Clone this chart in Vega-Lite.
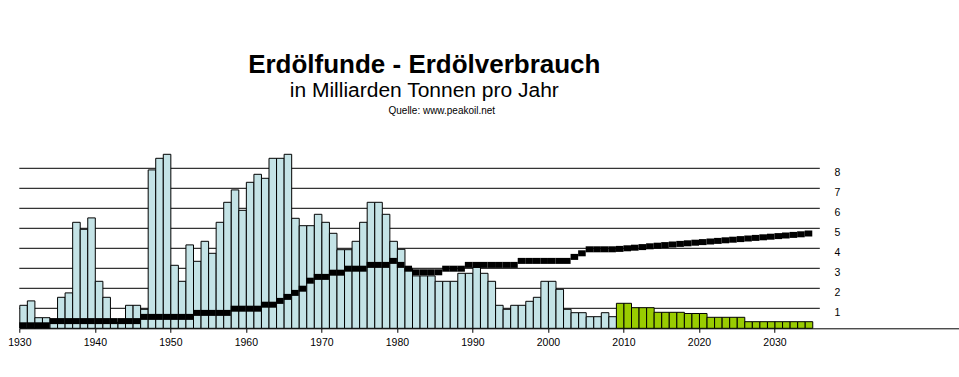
{
  "$schema": "https://vega.github.io/schema/vega-lite/v6.json",
  "width": 944,
  "height": 180,
  "autosize": {"type": "none"},
  "padding": {"left": 19.3, "top": 148.3, "right": 0, "bottom": 49},
  "background": "white",
  "title": {
    "text": "Erdölfunde - Erdölverbrauch",
    "subtitle": "in Milliarden Tonnen pro Jahr",
    "anchor": "middle",
    "frame": "group",
    "dx": -67,
    "font": "Liberation Sans",
    "fontSize": 26,
    "fontWeight": "bold",
    "color": "black",
    "subtitleFont": "Liberation Sans",
    "subtitleFontSize": 21,
    "subtitleColor": "black",
    "subtitlePadding": 2,
    "offset": 4
  },
  "datasets": {
    "funde": [
      {"jahr": "1930", "wert": 1.15, "art": "Funde"},
      {"jahr": "1931", "wert": 1.37, "art": "Funde"},
      {"jahr": "1932", "wert": 0.53, "art": "Funde"},
      {"jahr": "1933", "wert": 0.53, "art": "Funde"},
      {"jahr": "1934", "wert": 0.3, "art": "Funde"},
      {"jahr": "1935", "wert": 1.55, "art": "Funde"},
      {"jahr": "1936", "wert": 1.77, "art": "Funde"},
      {"jahr": "1937", "wert": 5.3, "art": "Funde"},
      {"jahr": "1938", "wert": 4.95, "art": "Funde"},
      {"jahr": "1939", "wert": 5.52, "art": "Funde"},
      {"jahr": "1940", "wert": 2.35, "art": "Funde"},
      {"jahr": "1941", "wert": 1.55, "art": "Funde"},
      {"jahr": "1942", "wert": 0.3, "art": "Funde"},
      {"jahr": "1943", "wert": 0.3, "art": "Funde"},
      {"jahr": "1944", "wert": 1.15, "art": "Funde"},
      {"jahr": "1945", "wert": 1.15, "art": "Funde"},
      {"jahr": "1946", "wert": 0.95, "art": "Funde"},
      {"jahr": "1947", "wert": 7.92, "art": "Funde"},
      {"jahr": "1948", "wert": 8.5, "art": "Funde"},
      {"jahr": "1949", "wert": 8.7, "art": "Funde"},
      {"jahr": "1950", "wert": 3.15, "art": "Funde"},
      {"jahr": "1951", "wert": 2.35, "art": "Funde"},
      {"jahr": "1952", "wert": 4.17, "art": "Funde"},
      {"jahr": "1953", "wert": 3.35, "art": "Funde"},
      {"jahr": "1954", "wert": 4.35, "art": "Funde"},
      {"jahr": "1955", "wert": 3.75, "art": "Funde"},
      {"jahr": "1956", "wert": 5.3, "art": "Funde"},
      {"jahr": "1957", "wert": 6.3, "art": "Funde"},
      {"jahr": "1958", "wert": 6.92, "art": "Funde"},
      {"jahr": "1959", "wert": 5.9, "art": "Funde"},
      {"jahr": "1960", "wert": 7.3, "art": "Funde"},
      {"jahr": "1961", "wert": 7.7, "art": "Funde"},
      {"jahr": "1962", "wert": 7.5, "art": "Funde"},
      {"jahr": "1963", "wert": 8.5, "art": "Funde"},
      {"jahr": "1964", "wert": 8.5, "art": "Funde"},
      {"jahr": "1965", "wert": 8.7, "art": "Funde"},
      {"jahr": "1966", "wert": 5.5, "art": "Funde"},
      {"jahr": "1967", "wert": 5.13, "art": "Funde"},
      {"jahr": "1968", "wert": 5.13, "art": "Funde"},
      {"jahr": "1969", "wert": 5.7, "art": "Funde"},
      {"jahr": "1970", "wert": 5.3, "art": "Funde"},
      {"jahr": "1971", "wert": 4.75, "art": "Funde"},
      {"jahr": "1972", "wert": 3.93, "art": "Funde"},
      {"jahr": "1973", "wert": 3.93, "art": "Funde"},
      {"jahr": "1974", "wert": 4.35, "art": "Funde"},
      {"jahr": "1975", "wert": 5.3, "art": "Funde"},
      {"jahr": "1976", "wert": 6.3, "art": "Funde"},
      {"jahr": "1977", "wert": 6.3, "art": "Funde"},
      {"jahr": "1978", "wert": 5.7, "art": "Funde"},
      {"jahr": "1979", "wert": 4.35, "art": "Funde"},
      {"jahr": "1980", "wert": 3.95, "art": "Funde"},
      {"jahr": "1981", "wert": 3.0, "art": "Funde"},
      {"jahr": "1982", "wert": 2.62, "art": "Funde"},
      {"jahr": "1983", "wert": 2.62, "art": "Funde"},
      {"jahr": "1984", "wert": 2.62, "art": "Funde"},
      {"jahr": "1985", "wert": 2.35, "art": "Funde"},
      {"jahr": "1986", "wert": 2.35, "art": "Funde"},
      {"jahr": "1987", "wert": 2.35, "art": "Funde"},
      {"jahr": "1988", "wert": 2.75, "art": "Funde"},
      {"jahr": "1989", "wert": 2.75, "art": "Funde"},
      {"jahr": "1990", "wert": 3.05, "art": "Funde"},
      {"jahr": "1991", "wert": 2.75, "art": "Funde"},
      {"jahr": "1992", "wert": 2.35, "art": "Funde"},
      {"jahr": "1993", "wert": 1.15, "art": "Funde"},
      {"jahr": "1994", "wert": 0.95, "art": "Funde"},
      {"jahr": "1995", "wert": 1.15, "art": "Funde"},
      {"jahr": "1996", "wert": 1.15, "art": "Funde"},
      {"jahr": "1997", "wert": 1.35, "art": "Funde"},
      {"jahr": "1998", "wert": 1.55, "art": "Funde"},
      {"jahr": "1999", "wert": 2.35, "art": "Funde"},
      {"jahr": "2000", "wert": 2.35, "art": "Funde"},
      {"jahr": "2001", "wert": 1.95, "art": "Funde"},
      {"jahr": "2002", "wert": 0.95, "art": "Funde"},
      {"jahr": "2003", "wert": 0.78, "art": "Funde"},
      {"jahr": "2004", "wert": 0.78, "art": "Funde"},
      {"jahr": "2005", "wert": 0.58, "art": "Funde"},
      {"jahr": "2006", "wert": 0.58, "art": "Funde"},
      {"jahr": "2007", "wert": 0.78, "art": "Funde"},
      {"jahr": "2008", "wert": 0.58, "art": "Funde"},
      {"jahr": "2009", "wert": 1.25, "art": "Prognose"},
      {"jahr": "2010", "wert": 1.25, "art": "Prognose"},
      {"jahr": "2011", "wert": 1.03, "art": "Prognose"},
      {"jahr": "2012", "wert": 1.03, "art": "Prognose"},
      {"jahr": "2013", "wert": 1.03, "art": "Prognose"},
      {"jahr": "2014", "wert": 0.8, "art": "Prognose"},
      {"jahr": "2015", "wert": 0.8, "art": "Prognose"},
      {"jahr": "2016", "wert": 0.8, "art": "Prognose"},
      {"jahr": "2017", "wert": 0.8, "art": "Prognose"},
      {"jahr": "2018", "wert": 0.74, "art": "Prognose"},
      {"jahr": "2019", "wert": 0.74, "art": "Prognose"},
      {"jahr": "2020", "wert": 0.74, "art": "Prognose"},
      {"jahr": "2021", "wert": 0.55, "art": "Prognose"},
      {"jahr": "2022", "wert": 0.55, "art": "Prognose"},
      {"jahr": "2023", "wert": 0.55, "art": "Prognose"},
      {"jahr": "2024", "wert": 0.55, "art": "Prognose"},
      {"jahr": "2025", "wert": 0.55, "art": "Prognose"},
      {"jahr": "2026", "wert": 0.33, "art": "Prognose"},
      {"jahr": "2027", "wert": 0.33, "art": "Prognose"},
      {"jahr": "2028", "wert": 0.33, "art": "Prognose"},
      {"jahr": "2029", "wert": 0.33, "art": "Prognose"},
      {"jahr": "2030", "wert": 0.33, "art": "Prognose"},
      {"jahr": "2031", "wert": 0.33, "art": "Prognose"},
      {"jahr": "2032", "wert": 0.33, "art": "Prognose"},
      {"jahr": "2033", "wert": 0.33, "art": "Prognose"},
      {"jahr": "2034", "wert": 0.33, "art": "Prognose"}
    ],
    "verbrauch": [
      {"jahr": "1930", "wert": 0.15}, {"jahr": "1931", "wert": 0.15}, {"jahr": "1932", "wert": 0.15}, {"jahr": "1933", "wert": 0.15},
      {"jahr": "1934", "wert": 0.36}, {"jahr": "1935", "wert": 0.36}, {"jahr": "1936", "wert": 0.36}, {"jahr": "1937", "wert": 0.36},
      {"jahr": "1938", "wert": 0.36}, {"jahr": "1939", "wert": 0.36}, {"jahr": "1940", "wert": 0.36}, {"jahr": "1941", "wert": 0.36},
      {"jahr": "1942", "wert": 0.36}, {"jahr": "1943", "wert": 0.36}, {"jahr": "1944", "wert": 0.36}, {"jahr": "1945", "wert": 0.36},
      {"jahr": "1946", "wert": 0.57}, {"jahr": "1947", "wert": 0.57}, {"jahr": "1948", "wert": 0.57}, {"jahr": "1949", "wert": 0.57},
      {"jahr": "1950", "wert": 0.57}, {"jahr": "1951", "wert": 0.57}, {"jahr": "1952", "wert": 0.57},
      {"jahr": "1953", "wert": 0.77}, {"jahr": "1954", "wert": 0.77}, {"jahr": "1955", "wert": 0.77}, {"jahr": "1956", "wert": 0.77}, {"jahr": "1957", "wert": 0.77},
      {"jahr": "1958", "wert": 0.98}, {"jahr": "1959", "wert": 0.98}, {"jahr": "1960", "wert": 0.98}, {"jahr": "1961", "wert": 0.98},
      {"jahr": "1962", "wert": 1.18}, {"jahr": "1963", "wert": 1.18}, {"jahr": "1964", "wert": 1.37}, {"jahr": "1965", "wert": 1.57},
      {"jahr": "1966", "wert": 1.77}, {"jahr": "1967", "wert": 1.98}, {"jahr": "1968", "wert": 2.38}, {"jahr": "1969", "wert": 2.57},
      {"jahr": "1970", "wert": 2.57}, {"jahr": "1971", "wert": 2.78}, {"jahr": "1972", "wert": 2.78}, {"jahr": "1973", "wert": 2.98},
      {"jahr": "1974", "wert": 2.98}, {"jahr": "1975", "wert": 2.98}, {"jahr": "1976", "wert": 3.17}, {"jahr": "1977", "wert": 3.17},
      {"jahr": "1978", "wert": 3.17}, {"jahr": "1979", "wert": 3.37}, {"jahr": "1980", "wert": 3.17}, {"jahr": "1981", "wert": 2.98},
      {"jahr": "1982", "wert": 2.8}, {"jahr": "1983", "wert": 2.8}, {"jahr": "1984", "wert": 2.8}, {"jahr": "1985", "wert": 2.8},
      {"jahr": "1986", "wert": 2.98}, {"jahr": "1987", "wert": 2.98}, {"jahr": "1988", "wert": 2.98}, {"jahr": "1989", "wert": 3.17},
      {"jahr": "1990", "wert": 3.17}, {"jahr": "1991", "wert": 3.17}, {"jahr": "1992", "wert": 3.17}, {"jahr": "1993", "wert": 3.17},
      {"jahr": "1994", "wert": 3.17}, {"jahr": "1995", "wert": 3.17}, {"jahr": "1996", "wert": 3.37}, {"jahr": "1997", "wert": 3.37},
      {"jahr": "1998", "wert": 3.37}, {"jahr": "1999", "wert": 3.37}, {"jahr": "2000", "wert": 3.37}, {"jahr": "2001", "wert": 3.37},
      {"jahr": "2002", "wert": 3.37}, {"jahr": "2003", "wert": 3.57}, {"jahr": "2004", "wert": 3.75}, {"jahr": "2005", "wert": 3.95},
      {"jahr": "2006", "wert": 3.95}, {"jahr": "2007", "wert": 3.95}, {"jahr": "2008", "wert": 3.95}, {"jahr": "2009", "wert": 3.97},
      {"jahr": "2010", "wert": 4.0}, {"jahr": "2011", "wert": 4.03}, {"jahr": "2012", "wert": 4.06}, {"jahr": "2013", "wert": 4.1},
      {"jahr": "2014", "wert": 4.13}, {"jahr": "2015", "wert": 4.16}, {"jahr": "2016", "wert": 4.19}, {"jahr": "2017", "wert": 4.22},
      {"jahr": "2018", "wert": 4.25}, {"jahr": "2019", "wert": 4.28}, {"jahr": "2020", "wert": 4.31}, {"jahr": "2021", "wert": 4.34},
      {"jahr": "2022", "wert": 4.37}, {"jahr": "2023", "wert": 4.4}, {"jahr": "2024", "wert": 4.43}, {"jahr": "2025", "wert": 4.46},
      {"jahr": "2026", "wert": 4.49}, {"jahr": "2027", "wert": 4.52}, {"jahr": "2028", "wert": 4.55}, {"jahr": "2029", "wert": 4.58},
      {"jahr": "2030", "wert": 4.61}, {"jahr": "2031", "wert": 4.64}, {"jahr": "2032", "wert": 4.67}, {"jahr": "2033", "wert": 4.7},
      {"jahr": "2034", "wert": 4.74}
    ],
    "gitter": [
      {"stufe": 1}, {"stufe": 2}, {"stufe": 3}, {"stufe": 4},
      {"stufe": 5}, {"stufe": 6}, {"stufe": 7}, {"stufe": 8}
    ]
  },
  "layer": [
    {
      "data": {"name": "gitter"},
      "mark": {"type": "rule", "color": "black", "strokeWidth": 1},
      "encoding": {
        "y": {"field": "stufe", "type": "quantitative"},
        "x": {"datum": {"year": 1930, "utc": true}, "type": "temporal"},
        "x2": {"datum": {"year": 2036, "utc": true}}
      }
    },
    {
      "data": {"name": "funde"},
      "mark": {"type": "bar", "stroke": "black", "strokeWidth": 1, "binSpacing": 0, "opacity": 1},
      "encoding": {
        "x": {
          "field": "jahr",
          "timeUnit": "utcyear",
          "type": "temporal",
          "scale": {"domain": [{"year": 1930, "utc": true}, {"year": 2055, "utc": true}], "nice": false},
          "axis": {
            "values": [
              {"year": 1930, "utc": true}, {"year": 1940, "utc": true}, {"year": 1950, "utc": true},
              {"year": 1960, "utc": true}, {"year": 1970, "utc": true}, {"year": 1980, "utc": true},
              {"year": 1990, "utc": true}, {"year": 2000, "utc": true}, {"year": 2010, "utc": true},
              {"year": 2020, "utc": true}, {"year": 2030, "utc": true}
            ],
            "tickCount": 30,
            "format": "%Y",
            "grid": false,
            "domainColor": "black",
            "domainWidth": 1,
            "tickColor": "black",
            "tickSize": 4,
            "labelPadding": 5,
            "labelFont": "Liberation Sans",
            "labelFontSize": 10.5,
            "labelColor": "black",
            "labelFlush": false,
            "labelOverlap": false,
            "title": "Quelle: www.peakoil.net",
            "titleFont": "Liberation Sans",
            "titleFontSize": 10,
            "titleFontWeight": "normal",
            "titleColor": "black",
            "titleAlign": "center",
            "titleBaseline": "top",
            "titleX": 422,
            "titleY": -223
          }
        },
        "y": {
          "field": "wert",
          "type": "quantitative",
          "scale": {"domain": [0, 9], "nice": false},
          "axis": {
            "orient": "right",
            "offset": -129.3,
            "values": [1, 2, 3, 4, 5, 6, 7, 8],
            "tickCount": 10,
            "grid": false,
            "domain": false,
            "ticks": false,
            "labelPadding": 0,
            "labelOffset": 4,
            "labelOverlap": false,
            "labelFont": "Liberation Sans",
            "labelFontSize": 10.5,
            "labelColor": "black",
            "labelAlign": "left",
            "title": null
          }
        },
        "color": {
          "field": "art",
          "type": "nominal",
          "scale": {"domain": ["Funde", "Prognose"], "range": ["#c4e3e6", "#99cc00"]},
          "legend": null
        }
      }
    },
    {
      "data": {"name": "verbrauch"},
      "mark": {"type": "tick", "orient": "horizontal", "color": "black", "thickness": 6, "size": 7.6, "opacity": 1},
      "encoding": {
        "x": {"field": "jahr", "timeUnit": "utcyear", "type": "temporal", "bandPosition": 0.5},
        "y": {"field": "wert", "type": "quantitative"}
      }
    }
  ],
  "config": {
    "view": {"stroke": null},
    "font": "Liberation Sans"
  }
}
